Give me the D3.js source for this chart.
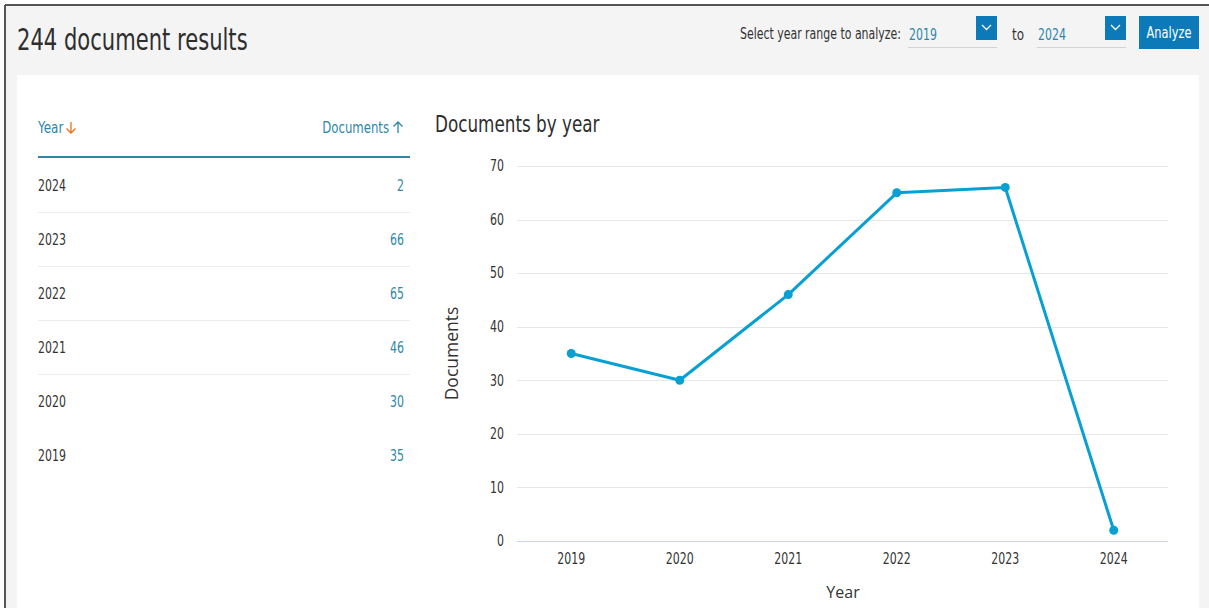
<!DOCTYPE html>
<html>
<head>
<meta charset="utf-8">
<script src="https://d3js.org/d3.v7.min.js"></script>
<style>
  body { margin: 0; background: #fff; }
  svg text { font-family: "DejaVu Sans", sans-serif; }
</style>
</head>
<body>
<svg id="page"></svg>

<script>
  var pageWidth = 1209;
  var pageHeight = 608;

  // data
  var years = ["2019", "2020", "2021", "2022", "2023", "2024"];
  var documents = [35, 30, 46, 65, 66, 2];
  var yTicks = [0, 10, 20, 30, 40, 50, 60, 70];
  var totalResults = 244;
  var rangeFrom = "2019";
  var rangeTo = "2024";

  var blueText = "#2e87a8";
  var lineColor = "#08a0d2";

  // the site font is a narrow one, squeeze DejaVu to get close
  function condense(sel, k) {
    sel.each(function() {
      var w = this.getComputedTextLength();
      d3.select(this).attr("textLength", w * k).attr("lengthAdjust", "spacingAndGlyphs");
    });
    return sel;
  }

  var svg = d3.select("#page")
    .attr("width", pageWidth)
    .attr("height", pageHeight);

  // grey page frame
  svg.append("rect")
    .attr("x", 0).attr("y", 0)
    .attr("width", pageWidth).attr("height", pageHeight)
    .attr("fill", "#fff");
  svg.append("rect")
    .attr("x", 6).attr("y", 6)
    .attr("width", pageWidth - 6).attr("height", pageHeight - 6)
    .attr("fill", "#f4f4f4");
  svg.append("line")
    .attr("x1", 5).attr("x2", pageWidth).attr("y1", 5).attr("y2", 5)
    .attr("stroke", "#555").attr("stroke-width", 2);
  svg.append("line")
    .attr("x1", 5).attr("x2", 5).attr("y1", 5).attr("y2", pageHeight)
    .attr("stroke", "#555").attr("stroke-width", 2);

  // white content panel
  svg.append("rect")
    .attr("x", 17).attr("y", 75)
    .attr("width", 1182).attr("height", pageHeight - 75)
    .attr("fill", "#fff");

  // header
  condense(svg.append("text")
    .attr("x", 17).attr("y", 50)
    .attr("font-size", 31)
    .attr("fill", "#2e2e2e")
    .text(totalResults + " document results"), 0.68);

  // scaled with a transform so it ends right before the first select
  var rangeLabel = svg.append("text")
    .attr("font-size", 15)
    .attr("fill", "#333")
    .text("Select year range to analyze:");
  var rangeLabelW = rangeLabel.node().getComputedTextLength() * 0.73;
  rangeLabel.attr("transform", "translate(" + (901 - rangeLabelW) + ",39) scale(0.73,1)");

  var selects = [{x: 908, label: rangeFrom}, {x: 1037, label: rangeTo}];
  selects.forEach(function(s) {
    condense(svg.append("text")
      .attr("x", s.x + 1).attr("y", 40)
      .attr("font-size", 15)
      .attr("fill", blueText)
      .text(s.label), 0.73);
    svg.append("line")
      .attr("x1", s.x).attr("x2", s.x + 89)
      .attr("y1", 47.5).attr("y2", 47.5)
      .attr("stroke", "#d2d2d2");
    svg.append("rect")
      .attr("x", s.x + 68).attr("y", 16)
      .attr("width", 21).attr("height", 24)
      .attr("fill", "#0c7ab8");
    svg.append("path")
      .attr("d", "M" + (s.x + 74) + ",25 l4.5,4.5 l4.5,-4.5")
      .attr("fill", "none")
      .attr("stroke", "#fff").attr("stroke-width", 1.3);
  });

  condense(svg.append("text")
    .attr("x", 1012).attr("y", 40)
    .attr("font-size", 15)
    .attr("fill", "#333")
    .text("to"), 0.8);

  svg.append("rect")
    .attr("x", 1139).attr("y", 16)
    .attr("width", 60).attr("height", 33)
    .attr("fill", "#0c7ab8");
  condense(svg.append("text")
    .attr("x", 1169).attr("y", 38)
    .attr("text-anchor", "middle")
    .attr("font-size", 15)
    .attr("fill", "#fff")
    .text("Analyze"), 0.76);

  // table on the left
  var rowScale = d3.scalePoint()
    .domain(years.slice().reverse())
    .range([185, 455]);

  condense(svg.append("text")
    .attr("x", 38).attr("y", 133)
    .attr("font-size", 15)
    .attr("fill", blueText)
    .text("Year"), 0.8);
  svg.append("path")
    .attr("d", "M71,122 v11 M66.5,128.5 l4.5,4.5 l4.5,-4.5")
    .attr("fill", "none").attr("stroke", "#e9711c").attr("stroke-width", 1.3);

  condense(svg.append("text")
    .attr("x", 389).attr("y", 133)
    .attr("text-anchor", "end")
    .attr("font-size", 15)
    .attr("fill", blueText)
    .text("Documents"), 0.78);
  svg.append("path")
    .attr("d", "M398,133 v-11 M393.5,126.5 l4.5,-4.5 l4.5,4.5")
    .attr("fill", "none").attr("stroke", blueText).attr("stroke-width", 1.3);

  svg.append("line")
    .attr("x1", 38).attr("x2", 410)
    .attr("y1", 157).attr("y2", 157)
    .attr("stroke", "#2e87a8").attr("stroke-width", 2);

  var tableRows = years.map(function(y, i) { return {year: y, count: documents[i]}; }).reverse();

  svg.selectAll(".rowline")
    .data(tableRows.slice(0, tableRows.length - 2))
    .enter().append("line")
    .attr("class", "rowline")
    .attr("x1", 38).attr("x2", 410)
    .attr("y1", function(d) { return rowScale(d.year) + 27.5; })
    .attr("y2", function(d) { return rowScale(d.year) + 27.5; })
    .attr("stroke", "#ececec");

  condense(svg.selectAll(".rowyear")
    .data(tableRows)
    .enter().append("text")
    .attr("class", "rowyear")
    .attr("x", 38)
    .attr("y", function(d) { return rowScale(d.year) + 6; })
    .attr("font-size", 15)
    .attr("fill", "#333")
    .text(function(d) { return d.year; }), 0.73);

  condense(svg.selectAll(".rowcount")
    .data(tableRows)
    .enter().append("text")
    .attr("class", "rowcount")
    .attr("x", 404)
    .attr("y", function(d) { return rowScale(d.year) + 6; })
    .attr("text-anchor", "end")
    .attr("font-size", 15)
    .attr("fill", blueText)
    .text(function(d) { return d.count; }), 0.73);

  // chart
  condense(svg.append("text")
    .attr("x", 435).attr("y", 132)
    .attr("font-size", 23)
    .attr("fill", "#2e2e2e")
    .text("Documents by year"), 0.73);

  var plotLeft = 517, plotRight = 1168;
  var xscale = d3.scaleBand().domain(years).range([plotLeft, plotRight]);
  var yscale = d3.scaleLinear().domain([0, 70]).range([541, 166]);

  var grid = svg.append("g");
  grid.selectAll("line")
    .data(yTicks)
    .enter().append("line")
    .attr("x1", plotLeft).attr("x2", plotRight)
    .attr("y1", function(d) { return Math.round(yscale(d)) + 0.5; })
    .attr("y2", function(d) { return Math.round(yscale(d)) + 0.5; })
    .attr("stroke", function(d) { return d === 0 ? "#ccd6eb" : "#e6e6e6"; });

  var yAxis = svg.append("g")
    .attr("transform", "translate(" + plotLeft + ",0)")
    .call(d3.axisLeft(yscale).tickValues(yTicks).tickSize(0).tickPadding(13));
  yAxis.select(".domain").remove();
  condense(yAxis.selectAll("text")
    .attr("font-size", 15)
    .attr("fill", "#333")
    .attr("font-family", null), 0.73);

  var xAxis = svg.append("g")
    .attr("transform", "translate(0,541)")
    .call(d3.axisBottom(xscale).tickSize(0).tickPadding(12));
  xAxis.select(".domain").remove();
  condense(xAxis.selectAll("text")
    .attr("font-size", 15)
    .attr("fill", "#333")
    .attr("font-family", null), 0.73);

  svg.append("text")
    .attr("transform", "translate(458," + yscale(35) + ") rotate(-90)")
    .attr("text-anchor", "middle")
    .attr("font-size", 17.5)
    .attr("fill", "#333")
    .style("font-family", "'Open Sans', sans-serif")
    .text("Documents");

  svg.append("text")
    .attr("x", 843).attr("y", 598)
    .attr("text-anchor", "middle")
    .attr("font-size", 16)
    .attr("fill", "#333")
    .style("font-family", "'Open Sans', sans-serif")
    .text("Year");

  var points = years.map(function(y, i) { return {year: y, value: documents[i]}; });
  var cx = function(d) { return xscale(d.year) + xscale.bandwidth() / 2; };

  svg.append("path")
    .datum(points)
    .attr("fill", "none")
    .attr("stroke", lineColor)
    .attr("stroke-width", 3)
    .attr("stroke-linejoin", "round")
    .attr("d", d3.line().x(cx).y(function(d) { return yscale(d.value); }));

  svg.selectAll(".dot")
    .data(points)
    .enter().append("circle")
    .attr("class", "dot")
    .attr("cx", cx)
    .attr("cy", function(d) { return yscale(d.value); })
    .attr("r", 4.5)
    .attr("fill", lineColor);
</script>
</body>
</html>
